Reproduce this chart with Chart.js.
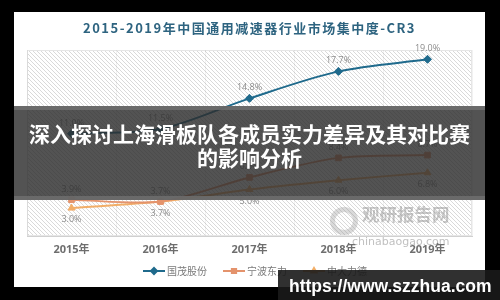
<!DOCTYPE html>
<html>
<head>
<meta charset="utf-8">
<script src="https://cdn.jsdelivr.net/npm/chart.js@4.4.0/dist/chart.umd.min.js"></script>
<style>
  body { margin: 0; background: #000; width: 500px; height: 300px; overflow: hidden; position: relative; font-family: "Noto Sans CJK SC", sans-serif; }
  #panel { position: absolute; left: 14px; top: 12px; width: 471px; height: 275px; background: #fff; }
  #chart { position: absolute; left: 0; top: 0; }
  .banner { position: absolute; left: 14px; top: 106px; width: 471px; height: 75px; background: rgba(45,45,45,0.82);
    border-top: 4px solid rgba(110,110,110,0.85); border-bottom: 4px solid rgba(110,110,110,0.85);
    color: #fff; font-weight: bold; font-size: 21px; line-height: 24px; text-align: center; padding-top: 11px; box-sizing: content-box; }
  .url { position: absolute; left: 278px; top: 270px; width: 222px; height: 30px; background: rgba(25,25,25,0.9);
    color: #fff; font-family: "Liberation Sans", sans-serif; font-weight: bold; font-size: 17.5px; line-height: 32px; padding-left: 11px; box-sizing: border-box; white-space: nowrap; }
  .wm1 { position: absolute; left: 362px; top: 203px; color: rgba(130,130,130,0.45); font-weight: bold; font-size: 17.5px; letter-spacing: 0px; line-height: 22px; }
  .wm2 { position: absolute; left: 352px; top: 235px; color: rgba(130,130,130,0.5); font-family: "DejaVu Sans", sans-serif; font-size: 11px; line-height: 13px; }
  .logo { position: absolute; left: 330px; top: 207px; width: 18px; height: 18px; border-radius: 50%; border: 5px solid rgba(150,150,150,0.35); }
</style>
</head>
<body>
<div id="panel"><canvas id="chart" width="471" height="275"></canvas></div>
<div class="logo"></div>
<div class="wm1">观研报告网</div>
<div class="wm2">chinabaogao.com</div>
<div class="banner">深入探讨上海滑板队各成员实力差异及其对比赛<br>的影响分析</div>
<div class="url">https://www.szzhua.com</div>
<script>
const chartTitle = "2015-2019年中国通用减速器行业市场集中度-CR3";
const years = ["2015年", "2016年", "2017年", "2018年", "2019年"];
const seriesNames = ["国茂股份", "宁波东力", "中大力德"];
const guomao = [11.0, 11.5, 14.8, 17.7, 19.0];
const ningbo = [3.9, 3.7, 6.3, 8.4, 8.7];
const zhongda = [3.0, 3.7, 5.0, 6.0, 6.8];

const colors = ["#1f6a8c", "#e4936c", "#f2ae68"];
const shapes = ["rectRot", "rect", "triangle"];
const labelBelow = [false, false, true];

function makeHatch(ctx) {
    const c = document.createElement("canvas");
    c.width = 4; c.height = 4;
    const g = c.getContext("2d");
    g.fillStyle = "#fff";
    g.fillRect(0, 0, 4, 4);
    g.strokeStyle = "#d9d9d9";
    g.lineWidth = 1;
    g.beginPath();
    g.moveTo(-1, -1); g.lineTo(5, 5);
    g.moveTo(-1, 3); g.lineTo(1, 5);
    g.moveTo(3, -1); g.lineTo(5, 1);
    g.stroke();
    return ctx.createPattern(c, "repeat");
}

const decor = {
    id: "decor",
    beforeDraw(chart) {
        const { ctx, chartArea: a } = chart;
        ctx.save();
        ctx.fillStyle = makeHatch(ctx);
        ctx.fillRect(a.left, a.top, a.right - a.left, a.bottom - a.top);
        ctx.strokeStyle = "#e6e6e6";
        ctx.strokeRect(a.left + 0.5, a.top + 0.5, a.right - a.left - 1, a.bottom - a.top - 1);
        // title
        ctx.font = "bold 13px 'Noto Sans CJK SC'";
        ctx.letterSpacing = "1.5px";
        ctx.fillStyle = "#2e6480";
        ctx.textAlign = "center";
        ctx.textBaseline = "middle";
        ctx.fillText(chartTitle, chart.width / 2, 16);
        ctx.restore();
    },
    afterDatasetsDraw(chart) {
        const { ctx } = chart;
        ctx.save();
        ctx.font = "9px 'Open Sans', 'Noto Sans'";
        ctx.fillStyle = "#8c8c8c";
        ctx.textAlign = "center";
        chart.data.datasets.forEach((ds, i) => {
            const meta = chart.getDatasetMeta(i);
            meta.data.forEach((pt, j) => {
                const txt = ds.data[j].toFixed(1) + "%";
                if (labelBelow[i]) {
                    ctx.textBaseline = "top";
                    ctx.fillText(txt, pt.x, pt.y + 7);
                } else {
                    ctx.textBaseline = "bottom";
                    ctx.fillText(txt, pt.x, pt.y - 6);
                }
            });
        });
        // legend
        ctx.font = "10px 'Noto Sans CJK SC'";
        ctx.textBaseline = "middle";
        ctx.textAlign = "left";
        const y = 259;
        let x = 129;
        chart.data.datasets.forEach((ds, i) => {
            ctx.strokeStyle = colors[i];
            ctx.lineWidth = 2;
            ctx.beginPath();
            ctx.moveTo(x, y); ctx.lineTo(x + 22, y);
            ctx.stroke();
            Chart.helpers.drawPoint(ctx, { pointStyle: shapes[i], radius: 3, borderWidth: 1 }, x + 11, y);
            ctx.fillStyle = colors[i];
            ctx.fill();
            ctx.fillStyle = "#7a7a7a";
            ctx.fillText(ds.label, x + 24, y);
            x += 24 + ctx.measureText(ds.label).width + 16;
        });
        ctx.restore();
    }
};

const values = [guomao, ningbo, zhongda];

new Chart(document.getElementById("chart"), {
    type: "line",
    data: {
        labels: years,
        datasets: seriesNames.map((name, i) => ({
            label: name,
            data: values[i],
            borderColor: colors[i],
            backgroundColor: colors[i],
            borderWidth: 2,
            pointStyle: shapes[i],
            pointRadius: 4,
            pointBorderWidth: 1,
            tension: 0.3,
            fill: false
        }))
    },
    options: {
        responsive: false,
        animation: false,
        layout: { padding: { left: 13, right: 13, top: 38, bottom: 29 } },
        plugins: { legend: { display: false }, title: { display: false }, tooltip: { enabled: false } },
        scales: {
            x: {
                offset: true,
                afterFit: s => { s.height = 22; },
                grid: { display: true, offset: true, color: "rgba(0,0,0,0.05)", drawTicks: false },
                border: { color: "#d0d0d0" },
                ticks: { color: "#6e6e6e", padding: 7, font: { family: "'Open Sans', 'Noto Sans CJK SC'", size: 11, weight: "bold" } }
            },
            y: { display: false, min: 0, max: 20 }
        }
    },
    plugins: [decor]
});
</script>
</body>
</html>
